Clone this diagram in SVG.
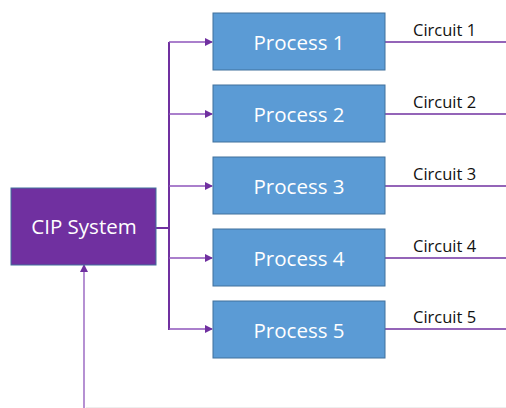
<svg xmlns="http://www.w3.org/2000/svg" width="506" height="408" viewBox="0 0 506 408">
  <style>
    .proc { fill: #5B9BD5; stroke: #41719C; stroke-width: 1; }
    .cip { fill: #7030A0; stroke: #41719C; stroke-width: 1; }
    .ptext { font-family: "Open Sans", "Liberation Sans", sans-serif; font-size: 20.5px; fill: #ffffff; text-anchor: middle; }
    .ctext { font-family: "Open Sans", "Liberation Sans", sans-serif; font-size: 16.5px; fill: #111111; }
    .bus { stroke: #7030A0; stroke-width: 2; fill: none; }
    .feed { stroke: #8E55BB; stroke-width: 1.3; fill: none; marker-end: url(#arrow); }
    .circ { stroke: #7030A0; stroke-width: 1.6; fill: none; }
  </style>
  <defs>
    <marker id="arrow" markerWidth="8" markerHeight="8" refX="7" refY="4" orient="auto" markerUnits="userSpaceOnUse">
      <path d="M0,0 L8,4 L0,8 Z" fill="#7030A0"/>
    </marker>
  </defs>

  <!-- connectors -->
  <g id="connectors">
    <line x1="156" y1="228" x2="169" y2="228" class="bus"/>
    <line x1="169" y1="42" x2="169" y2="330" class="bus"/>
    <line x1="169" y1="42" x2="212" y2="42" class="feed"/>
    <line x1="169" y1="114" x2="212" y2="114" class="feed"/>
    <line x1="169" y1="186" x2="212" y2="186" class="feed"/>
    <line x1="169" y1="258" x2="212" y2="258" class="feed"/>
    <line x1="169" y1="329" x2="212" y2="329" class="feed"/>
    <line x1="385" y1="42" x2="506" y2="42" class="circ"/>
    <line x1="385" y1="114" x2="506" y2="114" class="circ"/>
    <line x1="385" y1="186" x2="506" y2="186" class="circ"/>
    <line x1="385" y1="258" x2="506" y2="258" class="circ"/>
    <line x1="385" y1="329" x2="506" y2="329" class="circ"/>
    <line x1="84" y1="408" x2="84" y2="265" class="feed"/>
    <line x1="86" y1="407.5" x2="506" y2="407.5" stroke="#eeeeee" stroke-width="1"/>
  </g>

  <g id="cip-system">
    <rect x="11" y="188" width="145" height="77" class="cip"/>
    <text x="84" y="234" class="ptext">CIP System</text>
  </g>

  <g id="process-1">
    <rect x="213" y="13" width="172" height="57" class="proc"/>
    <text x="299" y="50" class="ptext">Process 1</text>
  </g>
  <g id="process-2">
    <rect x="213" y="85" width="172" height="57" class="proc"/>
    <text x="299" y="122" class="ptext">Process 2</text>
  </g>
  <g id="process-3">
    <rect x="213" y="157" width="172" height="57" class="proc"/>
    <text x="299" y="194" class="ptext">Process 3</text>
  </g>
  <g id="process-4">
    <rect x="213" y="229" width="172" height="57" class="proc"/>
    <text x="299" y="266" class="ptext">Process 4</text>
  </g>
  <g id="process-5">
    <rect x="213" y="301" width="172" height="57" class="proc"/>
    <text x="299" y="338" class="ptext">Process 5</text>
  </g>

  <g id="circuit-labels">
    <text x="413" y="36" class="ctext">Circuit 1</text>
    <text x="413" y="108" class="ctext">Circuit 2</text>
    <text x="413" y="180" class="ctext">Circuit 3</text>
    <text x="413" y="252" class="ctext">Circuit 4</text>
    <text x="413" y="323" class="ctext">Circuit 5</text>
  </g>
</svg>
